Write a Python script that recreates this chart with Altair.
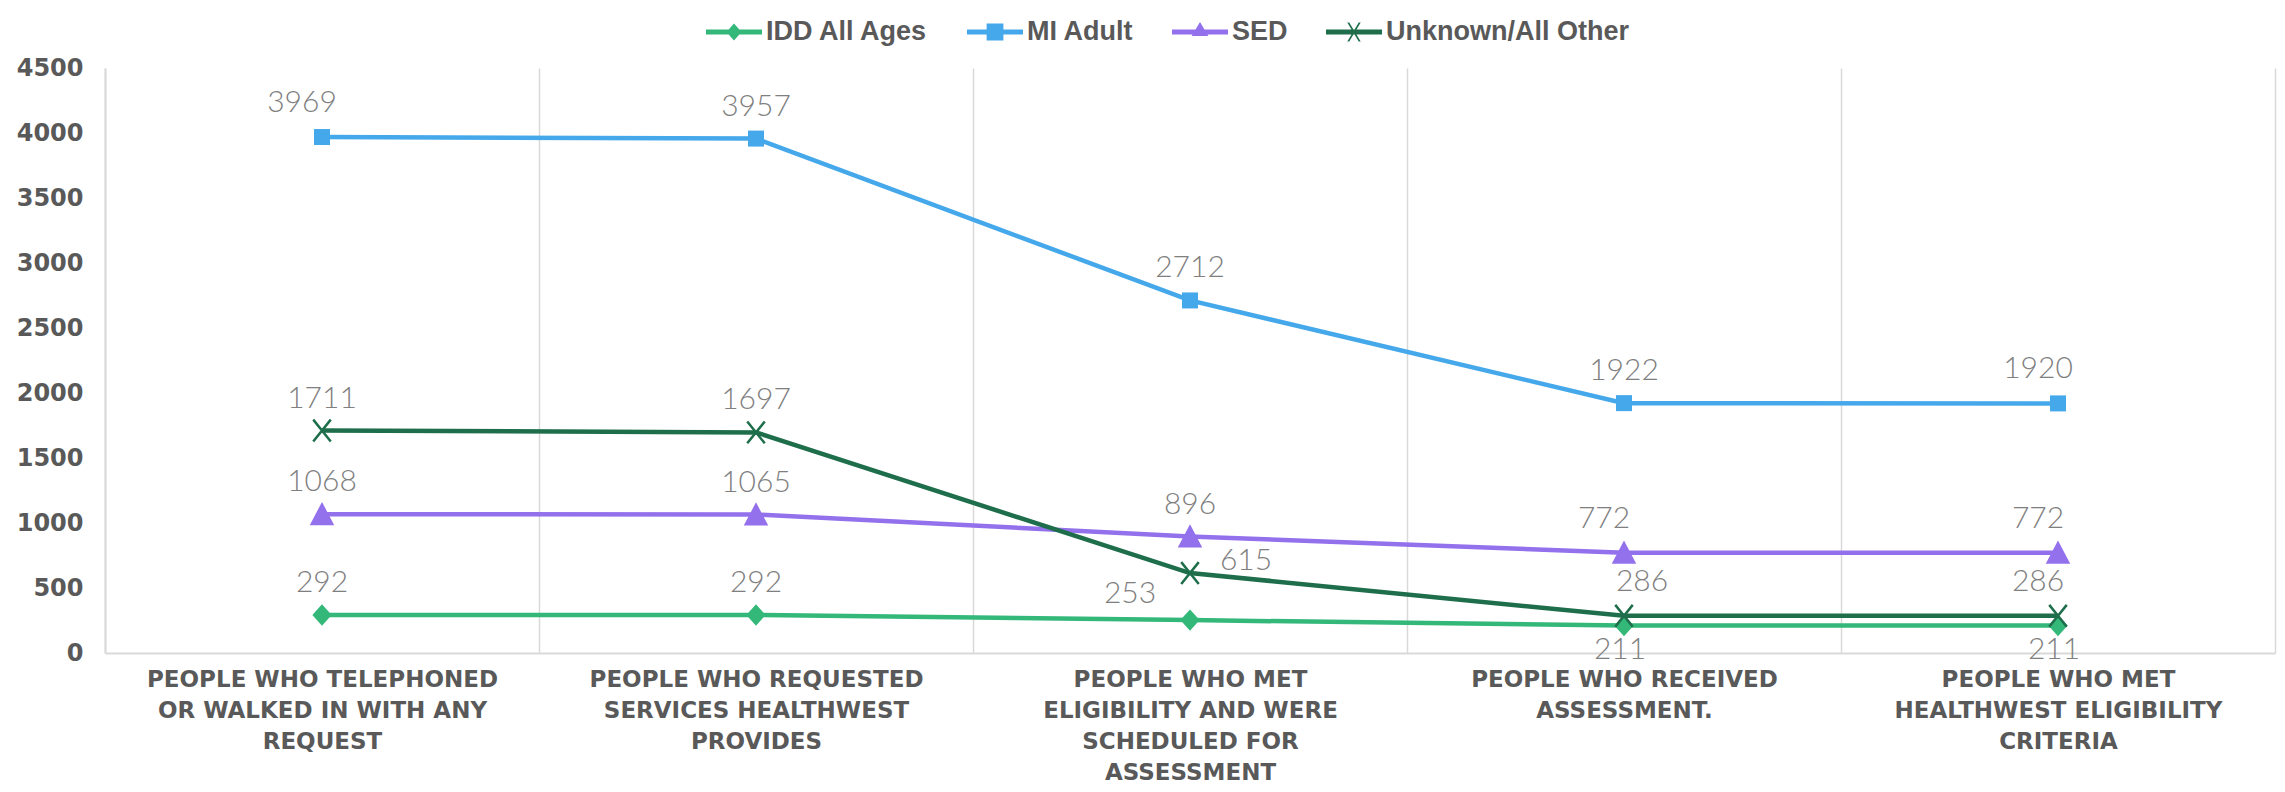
import json
import altair as alt
import pandas as pd

# ---------------- data ----------------
STAGES = [
    "PEOPLE WHO TELEPHONED OR WALKED IN WITH ANY REQUEST",
    "PEOPLE WHO REQUESTED SERVICES HEALTHWEST PROVIDES",
    "PEOPLE WHO MET ELIGIBILITY AND WERE SCHEDULED FOR ASSESSMENT",
    "PEOPLE WHO RECEIVED ASSESSMENT.",
    "PEOPLE WHO MET HEALTHWEST ELIGIBILITY CRITERIA",
]
STAGE_LINES = [
    ["PEOPLE WHO TELEPHONED", "OR WALKED IN WITH ANY", "REQUEST"],
    ["PEOPLE WHO REQUESTED", "SERVICES HEALTHWEST", "PROVIDES"],
    ["PEOPLE WHO MET", "ELIGIBILITY AND WERE", "SCHEDULED FOR", "ASSESSMENT"],
    ["PEOPLE WHO RECEIVED", "ASSESSMENT."],
    ["PEOPLE WHO MET", "HEALTHWEST ELIGIBILITY", "CRITERIA"],
]
SERIES = ["IDD All Ages", "MI Adult", "SED", "Unknown/All Other"]
IDD = [292, 292, 253, 211, 211]
MI = [3969, 3957, 2712, 1922, 1920]
SED = [1068, 1065, 896, 772, 772]
UNK = [1711, 1697, 615, 286, 286]
Y_TICKS = [0, 500, 1000, 1500, 2000, 2500, 3000, 3500, 4000, 4500]

# ---------------- style ----------------
COLORS = ["#33b87a", "#45a8ea", "#9370ec", "#1e6e4b"]
LABEL_PLACES = {
    "IDD All Ages": ["above", "above", "left", "below", "below"],
    "MI Adult": ["above_l", "above", "above", "above", "above_l"],
    "SED": ["above", "above", "above", "above_l", "above_l"],
    "Unknown/All Other": ["above", "above", "right", "above_r", "above_l"],
}
PLACE_OFFSETS = {
    "above": (0, -32),
    "above_l": (-20, -34),
    "above_r": (18, -34),
    "left": (-60, -26),
    "right": (56, -12),
    "below": (-4, 24),
}
BAR = "M-1,-0.09H1V0.09H-1Z"
LEGEND_PATHS = [
    BAR + " M0,-0.3L0.27,0L0,0.3L-0.27,0Z",
    BAR + " M-0.3,-0.3H0.3V0.3H-0.3Z",
    BAR + " M0,-0.36L0.3,0.14L-0.3,0.14Z",
    BAR + " M-0.24,-0.34L-0.17,-0.34L0.24,0.34L0.17,0.34Z M0.17,-0.34L0.24,-0.34L-0.17,0.34L-0.24,0.34Z",
]
MARKERS = {
    "IDD All Ages": ("M0,-1L0.9,0L0,1L-0.9,0Z", 460, True),
    "MI Adult": ("square", 256, True),
    "SED": ("M0,-1L1,0.9L-1,0.9Z", 600, True),
    "Unknown/All Other": ("M-0.8,-1L0.8,1M-0.8,1L0.8,-1", 480, False),
}

rows = []
for s, vals in zip(SERIES, [IDD, MI, SED, UNK]):
    for i, (st, v) in enumerate(zip(STAGES, vals)):
        rows.append({"series": s, "stage": st, "value": v, "place": LABEL_PLACES[s][i]})
df = pd.DataFrame(rows)

label_expr = " : ".join(
    f"datum.value == {json.dumps(st)} ? {json.dumps(lines)}" for st, lines in zip(STAGES, STAGE_LINES)
) + " : datum.value"

x = alt.X(
    "stage:N",
    sort=STAGES,
    bandPosition=0.5,
    scale=alt.Scale(type="band", paddingInner=0, paddingOuter=0),
    axis=alt.Axis(
        title=None, labelAngle=0, labelExpr=label_expr,
        labelFont="DejaVu Sans", labelFontWeight="bold", labelFontSize=23,
        labelColor="#595959", labelLineHeight=31, labelLimit=1000, labelPadding=15,
        labelBaseline="top",
        ticks=False, grid=True, gridColor="#d9d9d9", gridWidth=1.5, tickBand="extent",
        domainColor="#d9d9d9", domainWidth=2,
    ),
)
y = alt.Y(
    "value:Q",
    scale=alt.Scale(domain=[0, 4500], nice=False),
    axis=alt.Axis(
        title=None, values=Y_TICKS, format="d", grid=False, ticks=False,
        labelFont="DejaVu Sans", labelFontWeight="bold", labelFontSize=24,
        labelColor="#595959", labelPadding=22, domainColor="#d9d9d9", domainWidth=2,
    ),
)
legend = alt.Legend(
    title=None, orient="none", direction="horizontal", legendX=601, legendY=-64,
    labelFont="Liberation Sans, Arial, sans-serif",
    labelFontWeight="bold", labelFontSize=27, labelColor="#595959", labelLimit=600,
    symbolSize=3136, symbolStrokeWidth=0, columnPadding=38, labelOffset=4,
)
color = alt.Color("series:N", scale=alt.Scale(domain=SERIES, range=COLORS), legend=legend)

base = alt.Chart(df)

lines = base.mark_line(strokeWidth=4.5).encode(x=x, y=y, color=color, detail="series:N")

layers = [lines]
for s in SERIES:
    shape, size, filled = MARKERS[s]
    layers.append(
        base.transform_filter(alt.datum.series == s)
        .mark_point(shape=shape, size=size, filled=filled, strokeWidth=2.5, opacity=1)
        .encode(x=x, y=y, color=color)
    )

legend_layer = (
    base.transform_filter("false")
    .mark_point(filled=True, opacity=1)
    .encode(
        x=x, y=y, color=color,
        shape=alt.Shape("series:N", scale=alt.Scale(domain=SERIES, range=LEGEND_PATHS), legend=legend),
    )
)
layers.append(legend_layer)

for place, (dx, dy) in PLACE_OFFSETS.items():
    layers.append(
        base.transform_filter(alt.datum.place == place)
        .mark_text(dx=dx, dy=dy, font="Lato, Liberation Sans, sans-serif", fontSize=30,
                   fontWeight=300, color="#7f7f7f")
        .encode(x=x, y=y, text="value:Q")
    )

chart = (
    alt.layer(*layers)
    .properties(
        width=2269, height=776,
        autosize=alt.AutoSizeParams(type="fit", contains="padding"),
        padding={"left": 8, "top": 48, "right": 2, "bottom": 0},
    )
    .configure_view(stroke=None)
)

chart.save("out.html", embed_options={"renderer": "svg", "actions": False})
